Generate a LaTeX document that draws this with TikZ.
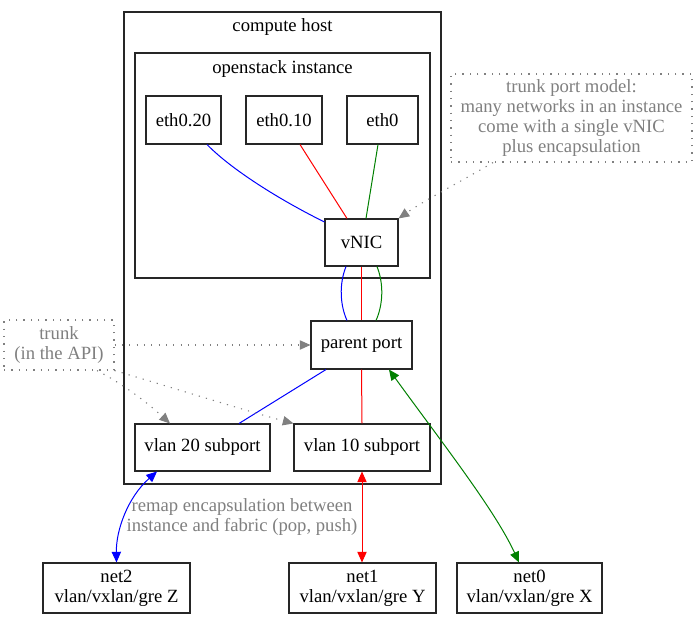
\documentclass[tikz,border=0pt]{standalone}
\usepackage{fontspec}
\setmainfont{Liberation Serif}
\usetikzlibrary{arrows.meta,calc}
\definecolor{notegray}{HTML}{808080}
\definecolor{dgreen}{HTML}{008000}
\begin{document}
\begin{tikzpicture}[x=0.75pt,y=-0.75pt,
  every node/.style={font=\fontsize{14}{15}\selectfont},
  box/.style={draw=black!85,line width=0.8pt,inner sep=0pt,align=center},
  clusterbox/.style={draw=black!85,line width=0.8pt},
  note/.style={draw=notegray,line width=0.8pt,dash pattern=on 0.9pt off 4.6pt,text=notegray,inner sep=0pt,align=center},
  lbl/.style={inner sep=0pt,align=center},
  biTip/.style={{Triangle[length=8pt,width=7pt]}-{Triangle[length=8pt,width=7pt]}},
  link/.style={line width=0.75pt},
  hint/.style={draw=notegray,line width=0.8pt,dash pattern=on 0.9pt off 4.6pt,-{Triangle[length=8pt,width=7pt,fill=notegray]}}
]
\useasboundingbox (0,0) rectangle (698,617);
\fill[white] (0,0) rectangle (698,617);
% clusters
\draw[clusterbox] (124,12) rectangle (441,484);
\node[lbl] (hostlbl) at (282.5,27) {compute host};
\draw[clusterbox] (135,53) rectangle (430,278);
\node[lbl] (instlbl) at (282.5,69) {openstack instance};
% nodes
\node[box,minimum width=56.25pt,minimum height=36pt] (eth020) at (183.5,120) {eth0.20};
\node[box,minimum width=57pt,minimum height=36pt] (eth010) at (284,120) {eth0.10};
\node[box,minimum width=53.25pt,minimum height=36pt] (eth0) at (382.5,120) {eth0};
\node[box,minimum width=54.75pt,minimum height=35.25pt] (vnic) at (361.5,242.5) {vNIC};
\node[box,minimum width=75.75pt,minimum height=36pt] (parent) at (361.5,345) {parent port};
\node[box,minimum width=101.25pt,minimum height=35.25pt] (vlan20) at (202.5,447.5) {vlan 20 subport};
\node[box,minimum width=102pt,minimum height=35.25pt] (vlan10) at (362,447.5) {vlan 10 subport};
\node[box,minimum width=110.25pt,minimum height=37.5pt] (net2) at (116.5,588) {net2\\vlan/vxlan/gre Z};
\node[box,minimum width=110.25pt,minimum height=37.5pt] (net1) at (362.5,588) {net1\\vlan/vxlan/gre Y};
\node[box,minimum width=108.75pt,minimum height=37.5pt] (net0) at (529.5,588) {net0\\vlan/vxlan/gre X};
\node[note,minimum width=180.75pt,minimum height=66pt] (model) at (571.5,118) {trunk port model:\\many networks in an instance\\come with a single vNIC\\plus encapsulation};
\node[note,minimum width=82.5pt,minimum height=37.5pt] (trunk) at (59,345) {trunk\\(in the API)};
% instance links
\draw[link,blue] ($(eth020.south)+(23.5,0)$) .. controls (232,170) and (280,200) .. ($(vnic.west)+(0,-20.5)$);
\draw[link,red] ($(eth010.south)+(16,0)$) -- ($(vnic.north)+(-14.5,0)$);
\draw[link,dgreen] ($(eth0.south)+(-4.5,0)$) -- ($(vnic.north)+(4.5,0)$);
\draw[link,blue] ($(vnic.south)+(-15.5,0)$) .. controls (339,284) and (340,305) .. ($(parent.north)+(-14.5,0)$);
\draw[link,dgreen] ($(vnic.south)+(15.5,0)$) .. controls (384,284) and (383,305) .. ($(parent.north)+(14.5,0)$);
\draw[link,red] (vnic.south) -- (parent.north);
\draw[link,red] (parent.south) -- (vlan10.north);
\draw[link,blue] ($(parent.south)+(-35.5,0)$) -- ($(vlan20.north)+(36.5,0)$);
% fabric links
\draw[link,blue,biTip] ($(vlan20.south)+(-45.5,0)$) .. controls (128,497) and (116,530) .. (net2.north);
\draw[link,red,biTip] (vlan10.south) -- ($(net1.north)+(-0.5,0)$);
\draw[link,dgreen,biTip] ($(parent.south)+(27.5,0)$) .. controls (440,440) and (495,510) .. ($(net0.north)+(-10.5,0)$);
\node[lbl,text=notegray] (remap) at (242,517) {remap encapsulation between\\instance and fabric (pop, push)};
% hints
\draw[hint] ($(model.south)+(-78.5,0)$) .. controls (460,182) and (425,200) .. (vnic.north east);
\draw[hint] (trunk.east) -- (parent.west);
\draw[hint] ($(trunk.south)+(38,0)$) .. controls (125,385) and (150,405) .. ($(vlan20.north)+(-32.5,0)$);
\draw[hint] (trunk.south east) .. controls (180,390) and (250,412) .. (vlan10.north west);
\end{tikzpicture}
\end{document}
